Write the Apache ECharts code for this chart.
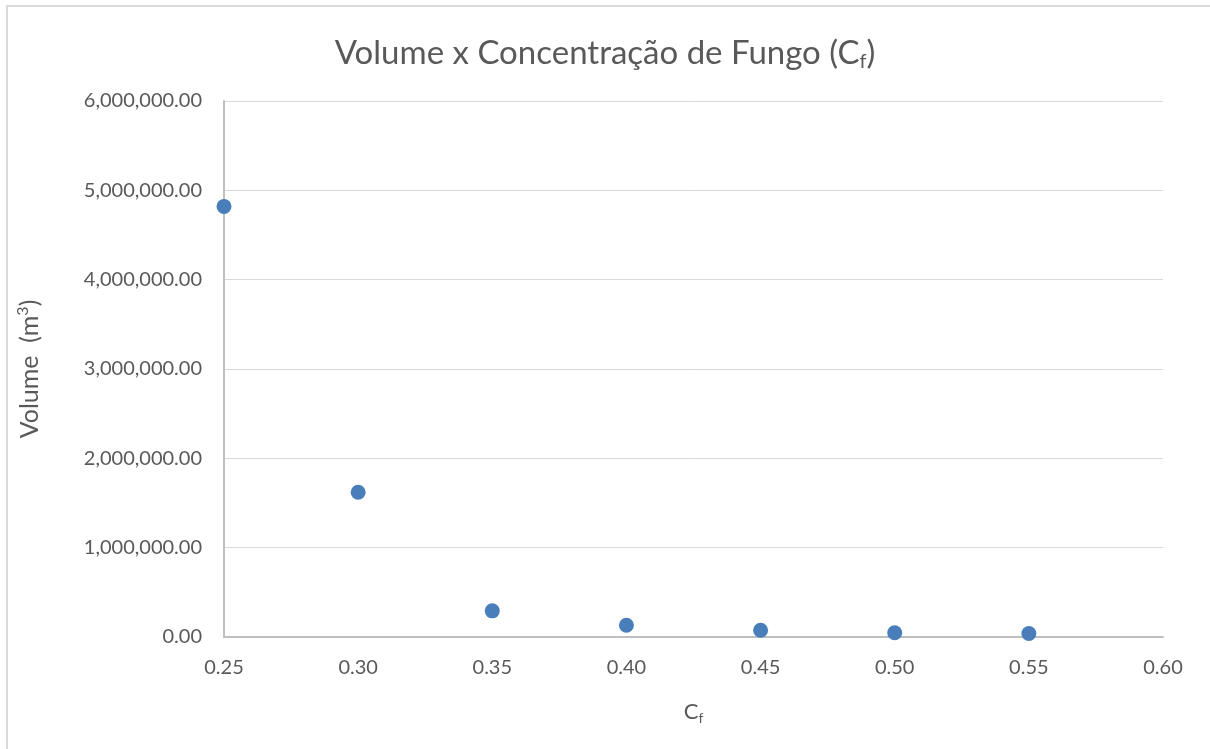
<!DOCTYPE html>
<html>
<head>
<meta charset="utf-8">
<style>
  html, body { margin: 0; padding: 0; background: #ffffff; }
  #chart { width: 1210px; height: 749px; }
</style>
<script src="https://cdn.jsdelivr.net/npm/echarts@6/dist/echarts.min.js"></script>
</head>
<body>
<div id="chart"></div>
<script>
// Fungus concentration (Cf) and the resulting volume in m³
const cfValues = [0.25, 0.30, 0.35, 0.40, 0.45, 0.50, 0.55];
const volumeValues = [4820000, 1620000, 293000, 132000, 76000, 47000, 39000];

const FONT = 'Lato, "Open Sans", sans-serif';
const TEXT = '#595959';

const chart = echarts.init(document.getElementById('chart'), null, { renderer: 'canvas' });

chart.setOption({
  animation: false,
  backgroundColor: '#ffffff',
  graphic: [
    // outer chart frame (top and left edges)
    { type: 'rect', shape: { x: 6, y: 5, width: 1210, height: 2 }, style: { fill: '#d9d9d9' }, silent: true },
    { type: 'rect', shape: { x: 6, y: 5, width: 2, height: 750 }, style: { fill: '#d9d9d9' }, silent: true }
  ],
  title: {
    text: 'Volume x Concentração de Fungo (C{sub|f})',
    left: 'center',
    top: 29,
    textStyle: {
      fontFamily: FONT,
      fontSize: 33,
      fontWeight: 'normal',
      color: TEXT,
      rich: {
        sub: { fontFamily: FONT, fontSize: 20, color: TEXT, verticalAlign: 'bottom', padding: [18, 0, 0, 0] }
      }
    }
  },
  grid: { left: 224, right: 47, top: 101, bottom: 112, containLabel: false },
  xAxis: {
    type: 'value',
    min: 0.25,
    max: 0.6,
    interval: 0.05,
    name: 'C{sub|f}',
    nameLocation: 'middle',
    nameGap: 62,
    nameTextStyle: {
      fontFamily: FONT, fontSize: 22, color: TEXT,
      rich: { sub: { fontFamily: FONT, fontSize: 14, color: TEXT, padding: [12, 0, 0, 0] } }
    },
    axisLine: { show: true, lineStyle: { color: '#bfbfbf', width: 2 } },
    axisTick: { show: false },
    splitLine: { show: false },
    axisLabel: {
      margin: 21,
      fontFamily: FONT, fontSize: 20, color: TEXT,
      formatter: v => v.toFixed(2)
    }
  },
  yAxis: {
    type: 'value',
    min: 0,
    max: 6000000,
    interval: 1000000,
    name: 'Volume  (m{sup|3})',
    nameLocation: 'middle',
    nameGap: 180,
    nameRotate: 90,
    nameTextStyle: {
      fontFamily: FONT, fontSize: 25, color: TEXT,
      rich: { sup: { fontFamily: FONT, fontSize: 16, color: TEXT, padding: [0, 0, 13, 0] } }
    },
    axisLine: { show: true, lineStyle: { color: '#bfbfbf', width: 2 } },
    axisTick: { show: false },
    splitLine: { show: true, lineStyle: { color: '#d9d9d9', width: 1 } },
    axisLabel: {
      margin: 22,
      fontFamily: FONT, fontSize: 20, color: TEXT,
      formatter: v => v.toLocaleString('en-US', { minimumFractionDigits: 2, maximumFractionDigits: 2 })
    }
  },
  series: [{
    type: 'scatter',
    symbol: 'circle',
    symbolSize: 15,
    itemStyle: { color: '#4A7EBB', opacity: 1 },
    data: cfValues.map((x, i) => [x, volumeValues[i]])
  }]
});
</script>
</body>
</html>
